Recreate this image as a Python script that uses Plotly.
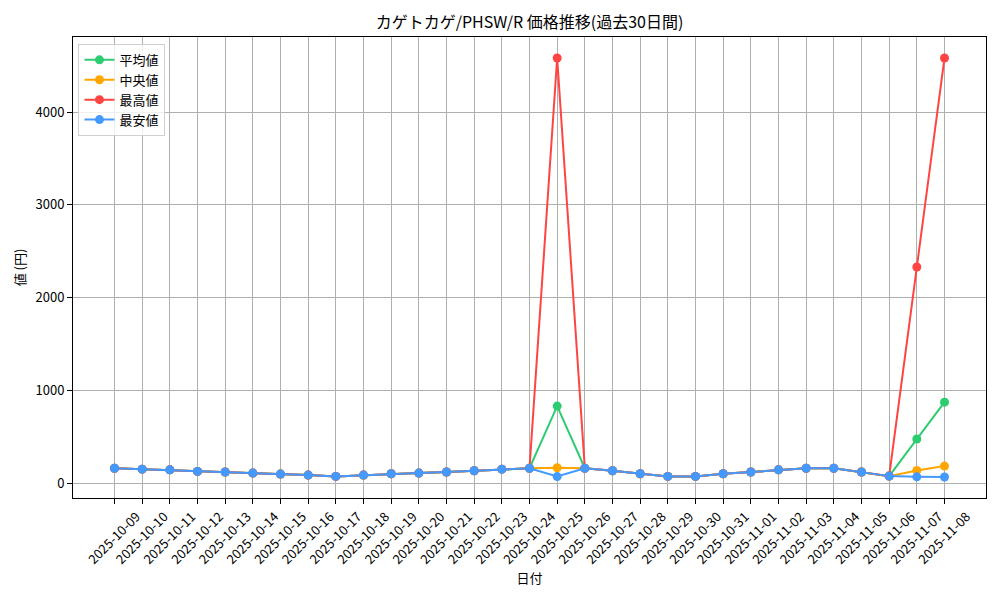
import pandas as pd
import plotly.graph_objects as go

dates = pd.date_range('2025-10-09', '2025-11-08').strftime('%Y-%m-%d').tolist()

avg_price = [160, 150, 143, 126, 119, 108, 97, 86, 72, 86, 100, 108, 119, 133, 150, 160,
             830, 160, 133, 100, 72, 72, 100, 119, 143, 160, 160, 119, 75, 475, 873]
median_price = [160, 150, 143, 126, 119, 108, 97, 86, 72, 86, 100, 108, 119, 133, 150, 160,
                165, 160, 133, 100, 72, 72, 100, 119, 143, 160, 160, 119, 75, 136, 183]
max_price = [160, 150, 143, 126, 119, 108, 97, 86, 72, 86, 100, 108, 119, 133, 150, 160,
             4585, 160, 133, 100, 72, 72, 100, 119, 143, 160, 160, 119, 75, 2330, 4585]
min_price = [160, 150, 143, 126, 119, 108, 97, 86, 72, 86, 100, 108, 119, 133, 150, 160,
             70, 160, 133, 100, 72, 72, 100, 119, 143, 160, 160, 119, 75, 67, 65]

series = [
    ('平均値', avg_price, '#2ecc71'),
    ('中央値', median_price, '#ffa500'),
    ('最高値', max_price, '#ff4444'),
    ('最安値', min_price, '#4499ff'),
]

FONT = 'Noto Sans CJK JP'

fig = go.Figure()
for name, values, colour in series:
    fig.add_trace(go.Scatter(x=dates, y=values, name=name, mode='lines+markers',
                             line=dict(color=colour, width=2),
                             marker=dict(color=colour, size=9)))

# matplotlib style 5% margins
all_vals = avg_price + median_price + max_price + min_price
lo, hi = min(all_vals), max(all_vals)
pad = (hi - lo) * 0.05
n = len(dates)

axis_style = dict(showline=True, linecolor='black', linewidth=1, mirror=True,
                  showgrid=True, gridcolor='#b0b0b0', gridwidth=1,
                  ticks='outside', ticklen=5, tickcolor='black', automargin=False,
                  zeroline=False, tickfont=dict(size=13, color='black'))

fig.update_xaxes(**axis_style, type='category', range=[-1.5, n - 1 + 1.5],
                 tickangle=-45, ticklabelshift=22,
                 title=dict(text='日付', font=dict(size=13), standoff=4))
fig.update_yaxes(**axis_style, range=[lo - pad, hi + pad], tickvals=[0, 1000, 2000, 3000, 4000],
                 title=dict(text='値 (円)', font=dict(size=13), standoff=6))

fig.update_layout(title=dict(text='カゲトカゲ/PHSW/R 価格推移(過去30日間)', x=0.5295, xanchor='center',
                             y=0.963, yanchor='middle', font=dict(size=16, color='black')),
                  font=dict(family=FONT, color='black'),
                  legend=dict(x=0.006, y=0.985, xanchor='left', yanchor='top',
                              bgcolor='rgba(255,255,255,0.8)', bordercolor='#d0d0d0', borderwidth=1,
                              font=dict(size=13)),
                  plot_bgcolor='white', paper_bgcolor='white',
                  margin=dict(l=73, r=14, t=37, b=102),
                  width=1000, height=600)

# drop the default page margin so the figure sits at the window corner
fig.write_html('out.html', config={'displayModeBar': False},
               post_script="document.body.style.margin='0';")
